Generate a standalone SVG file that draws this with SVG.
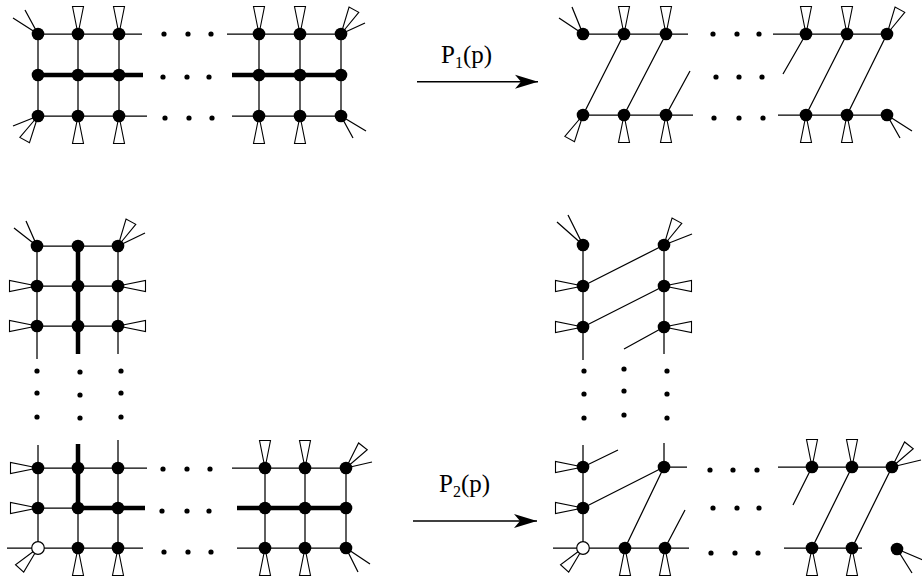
<svg xmlns="http://www.w3.org/2000/svg" xmlns:xlink="http://www.w3.org/1999/xlink" width="922" height="583" viewBox="0 0 922 583">
<style>
.e{stroke:#000;stroke-width:1.25;fill:none;stroke-linecap:butt}
.t{stroke:#000;stroke-width:4.5;fill:none}
.n{fill:#000}
.o{fill:#fff;stroke:#000;stroke-width:1.2}
.d{fill:#000}
.w{fill:#fff;stroke:#000;stroke-width:1.1;stroke-linejoin:miter}
.lbl{font-family:"Liberation Serif","Times New Roman",serif;font-size:25px;fill:#000}
.a{stroke:#000;stroke-width:1.6;fill:none}
</style>
<defs>
<polygon id="w" class="w" points="0,0 -5.5,-27.5 5.5,-27.5"/>
<marker id="ah" markerUnits="userSpaceOnUse" viewBox="-24 -8 25 16" refX="0" refY="0" markerWidth="25" markerHeight="16" orient="auto">
<path d="M0,0 L-23,-7 L-17,0 L-23,7 Z" fill="#000"/>
</marker>
</defs>

<g id="connectors">
<!-- top-left grid -->
<path class="e" d="M38,34H142M227,34H341M38,116H147M232,116H341M38,34V116M78,34V116M119,34V116M259,34V116M300,34V116M341,34V116"/>
<path class="t" d="M38,75H143M232,75H341"/>
<!-- top-right -->
<path class="e" d="M583,34H688M773,34H887M583,115H693M778,115H887M583,115L624,34M624,115L666,34M666,115L690,71M806,34L783,74M806,115L847,34M847,115L887,34"/>
<!-- bottom-left vertical part -->
<path class="e" d="M37,246H118M37,286H118M37,326H118M37,246V359M118,246V354"/>
<path class="t" d="M78,246V354"/>
<!-- bottom-right vertical part -->
<path class="e" d="M583,245V360M664,245V354M583,286L664,245M583,327L664,286M664,327L624,349"/>
<!-- bottom-left horizontal part -->
<path class="e" d="M38,445V548M78,508V548M118,440V548M38,468H147M38,508H78M7,548H143M232,468H346M237,548H346M265,468V548M305,468V548M346,468V548"/>
<path class="t" d="M78,444V508M78,508H145M237,508H346"/>
<!-- bottom-right horizontal part -->
<path class="e" d="M583,445V548M583,467L618,450M664,443V467M664,467H687M583,508L664,467M625,548L664,467M665,548L685,510M553,548H689M778,467H892M812,467L793,505M812,548L852,467M852,548L892,467M784,548H862"/>
<!-- arrows -->
<path class="a" d="M417,81.7H538" marker-end="url(#ah)"/>
<path class="a" d="M413,521H537" marker-end="url(#ah)"/>
</g>

<g id="dots">
<circle class="d" r="2.6" cx="164" cy="34"/><circle class="d" r="2.6" cx="188" cy="34"/><circle class="d" r="2.6" cx="211" cy="34"/>
<circle class="d" r="2.6" cx="163" cy="77"/><circle class="d" r="2.6" cx="187" cy="77"/><circle class="d" r="2.6" cx="209" cy="77"/>
<circle class="d" r="2.6" cx="165" cy="118"/><circle class="d" r="2.6" cx="189" cy="118"/><circle class="d" r="2.6" cx="212" cy="118"/>
<circle class="d" r="2.6" cx="713" cy="34"/><circle class="d" r="2.6" cx="737" cy="34"/><circle class="d" r="2.6" cx="759" cy="34"/>
<circle class="d" r="2.6" cx="716" cy="77"/><circle class="d" r="2.6" cx="739" cy="77"/><circle class="d" r="2.6" cx="762" cy="77"/>
<circle class="d" r="2.6" cx="714" cy="118"/><circle class="d" r="2.6" cx="739" cy="118"/><circle class="d" r="2.6" cx="763" cy="118"/>
<circle class="d" r="2.6" cx="37" cy="371"/><circle class="d" r="2.6" cx="37" cy="393"/><circle class="d" r="2.6" cx="37" cy="417"/>
<circle class="d" r="2.6" cx="80" cy="372"/><circle class="d" r="2.6" cx="80" cy="395"/><circle class="d" r="2.6" cx="80" cy="418"/>
<circle class="d" r="2.6" cx="121" cy="371"/><circle class="d" r="2.6" cx="121" cy="393"/><circle class="d" r="2.6" cx="121" cy="417"/>
<circle class="d" r="2.6" cx="584" cy="371"/><circle class="d" r="2.6" cx="584" cy="394"/><circle class="d" r="2.6" cx="584" cy="418"/>
<circle class="d" r="2.6" cx="624" cy="369"/><circle class="d" r="2.6" cx="624" cy="391"/><circle class="d" r="2.6" cx="624" cy="415"/>
<circle class="d" r="2.6" cx="667" cy="371"/><circle class="d" r="2.6" cx="667" cy="394"/><circle class="d" r="2.6" cx="667" cy="418"/>
<circle class="d" r="2.6" cx="163" cy="469"/><circle class="d" r="2.6" cx="187" cy="469"/><circle class="d" r="2.6" cx="210" cy="469"/>
<circle class="d" r="2.6" cx="162" cy="511"/><circle class="d" r="2.6" cx="187" cy="511"/><circle class="d" r="2.6" cx="209" cy="511"/>
<circle class="d" r="2.6" cx="164" cy="552"/><circle class="d" r="2.6" cx="188" cy="552"/><circle class="d" r="2.6" cx="211" cy="552"/>
<circle class="d" r="2.6" cx="710" cy="470"/><circle class="d" r="2.6" cx="733" cy="470"/><circle class="d" r="2.6" cx="757" cy="470"/>
<circle class="d" r="2.6" cx="713" cy="508"/><circle class="d" r="2.6" cx="737" cy="508"/><circle class="d" r="2.6" cx="759" cy="508"/>
<circle class="d" r="2.6" cx="711" cy="553"/><circle class="d" r="2.6" cx="735" cy="553"/><circle class="d" r="2.6" cx="758" cy="553"/>
</g>

<g id="labels">
<text class="lbl" x="441" y="63">P<tspan font-size="16" dy="5">1</tspan><tspan dy="-5">(p)</tspan></text>
<text class="lbl" x="439" y="492">P<tspan font-size="16" dy="5">2</tspan><tspan dy="-5">(p)</tspan></text>
</g>

<!-- ===== top-left grid nodes ===== -->
<g id="tl-00"><path class="e" d="M38,34L13,18M38,34L25,10"/><circle class="n" cx="38" cy="34" r="6.3"/></g>
<g id="tl-01"><use xlink:href="#w" transform="translate(78,34)"/><circle class="n" cx="78" cy="34" r="6.3"/></g>
<g id="tl-02"><use xlink:href="#w" transform="translate(119,34)"/><circle class="n" cx="119" cy="34" r="6.3"/></g>
<g id="tl-03"><use xlink:href="#w" transform="translate(259,34)"/><circle class="n" cx="259" cy="34" r="6.3"/></g>
<g id="tl-04"><use xlink:href="#w" transform="translate(300,34)"/><circle class="n" cx="300" cy="34" r="6.3"/></g>
<g id="tl-05"><use xlink:href="#w" transform="translate(341,34) rotate(28)"/><path class="e" d="M341,34L365,23"/><circle class="n" cx="341" cy="34" r="6.3"/></g>
<g id="tl-10"><circle class="n" cx="38" cy="75" r="6.3"/></g>
<g id="tl-11"><circle class="n" cx="78" cy="75" r="6.3"/></g>
<g id="tl-12"><circle class="n" cx="119" cy="75" r="6.3"/></g>
<g id="tl-13"><circle class="n" cx="259" cy="75" r="6.3"/></g>
<g id="tl-14"><circle class="n" cx="300" cy="75" r="6.3"/></g>
<g id="tl-15"><circle class="n" cx="341" cy="75" r="6.3"/></g>
<g id="tl-20"><use xlink:href="#w" transform="translate(38,116) rotate(209)"/><path class="e" d="M38,116L13,126"/><circle class="n" cx="38" cy="116" r="6.3"/></g>
<g id="tl-21"><use xlink:href="#w" transform="translate(78,116) rotate(180)"/><circle class="n" cx="78" cy="116" r="6.3"/></g>
<g id="tl-22"><use xlink:href="#w" transform="translate(119,116) rotate(180)"/><circle class="n" cx="119" cy="116" r="6.3"/></g>
<g id="tl-23"><use xlink:href="#w" transform="translate(259,116) rotate(180)"/><circle class="n" cx="259" cy="116" r="6.3"/></g>
<g id="tl-24"><use xlink:href="#w" transform="translate(300,116) rotate(180)"/><circle class="n" cx="300" cy="116" r="6.3"/></g>
<g id="tl-25"><path class="e" d="M341,116L366,131M341,116L353,138"/><circle class="n" cx="341" cy="116" r="6.3"/></g>

<!-- ===== top-right nodes ===== -->
<g id="tr-00"><path class="e" d="M583,34L559,18M583,34L572,7"/><circle class="n" cx="583" cy="34" r="6.3"/></g>
<g id="tr-01"><use xlink:href="#w" transform="translate(624,34)"/><circle class="n" cx="624" cy="34" r="6.3"/></g>
<g id="tr-02"><use xlink:href="#w" transform="translate(666,34)"/><circle class="n" cx="666" cy="34" r="6.3"/></g>
<g id="tr-03"><use xlink:href="#w" transform="translate(806,34)"/><circle class="n" cx="806" cy="34" r="6.3"/></g>
<g id="tr-04"><use xlink:href="#w" transform="translate(847,34)"/><circle class="n" cx="847" cy="34" r="6.3"/></g>
<g id="tr-05"><use xlink:href="#w" transform="translate(887,34) rotate(28)"/><circle class="n" cx="887" cy="34" r="6.3"/></g>
<g id="tr-10"><use xlink:href="#w" transform="translate(583,115) rotate(209)"/><circle class="n" cx="583" cy="115" r="6.3"/></g>
<g id="tr-11"><use xlink:href="#w" transform="translate(624,115) rotate(180)"/><circle class="n" cx="624" cy="115" r="6.3"/></g>
<g id="tr-12"><use xlink:href="#w" transform="translate(666,115) rotate(180)"/><circle class="n" cx="666" cy="115" r="6.3"/></g>
<g id="tr-13"><use xlink:href="#w" transform="translate(806,115) rotate(180)"/><circle class="n" cx="806" cy="115" r="6.3"/></g>
<g id="tr-14"><use xlink:href="#w" transform="translate(847,115) rotate(180)"/><circle class="n" cx="847" cy="115" r="6.3"/></g>
<g id="tr-15"><path class="e" d="M887,115L912,131M887,115L900,138"/><circle class="n" cx="887" cy="115" r="6.3"/></g>

<!-- ===== bottom-left vertical part nodes ===== -->
<g id="bv-00"><path class="e" d="M37,246L14,228M37,246L26,221"/><circle class="n" cx="37" cy="246" r="6.3"/></g>
<g id="bv-01"><circle class="n" cx="78" cy="246" r="6.3"/></g>
<g id="bv-02"><use xlink:href="#w" transform="translate(118,246) rotate(28)"/><path class="e" d="M118,246L145,233"/><circle class="n" cx="118" cy="246" r="6.3"/></g>
<g id="bv-10"><use xlink:href="#w" transform="translate(37,286) rotate(-90)"/><circle class="n" cx="37" cy="286" r="6.3"/></g>
<g id="bv-11"><circle class="n" cx="78" cy="286" r="6.3"/></g>
<g id="bv-12"><use xlink:href="#w" transform="translate(118,286) rotate(90)"/><circle class="n" cx="118" cy="286" r="6.3"/></g>
<g id="bv-20"><use xlink:href="#w" transform="translate(37,326) rotate(-90)"/><circle class="n" cx="37" cy="326" r="6.3"/></g>
<g id="bv-21"><circle class="n" cx="78" cy="326" r="6.3"/></g>
<g id="bv-22"><use xlink:href="#w" transform="translate(118,326) rotate(90)"/><circle class="n" cx="118" cy="326" r="6.3"/></g>

<!-- ===== bottom-right vertical part nodes ===== -->
<g id="rv-00"><path class="e" d="M583,245L557,222M583,245L568,215"/><circle class="n" cx="583" cy="245" r="6.3"/></g>
<g id="rv-01"><use xlink:href="#w" transform="translate(664,245) rotate(28)"/><path class="e" d="M664,245L692,234"/><circle class="n" cx="664" cy="245" r="6.3"/></g>
<g id="rv-10"><use xlink:href="#w" transform="translate(583,286) rotate(-90)"/><circle class="n" cx="583" cy="286" r="6.3"/></g>
<g id="rv-11"><use xlink:href="#w" transform="translate(664,286) rotate(90)"/><circle class="n" cx="664" cy="286" r="6.3"/></g>
<g id="rv-20"><use xlink:href="#w" transform="translate(583,327) rotate(-90)"/><circle class="n" cx="583" cy="327" r="6.3"/></g>
<g id="rv-21"><use xlink:href="#w" transform="translate(664,327) rotate(90)"/><circle class="n" cx="664" cy="327" r="6.3"/></g>

<!-- ===== bottom-left horizontal part nodes ===== -->
<g id="bh-00"><use xlink:href="#w" transform="translate(38,468) rotate(-90)"/><circle class="n" cx="38" cy="468" r="6.3"/></g>
<g id="bh-01"><circle class="n" cx="78" cy="468" r="6.3"/></g>
<g id="bh-02"><circle class="n" cx="118" cy="468" r="6.3"/></g>
<g id="bh-03"><use xlink:href="#w" transform="translate(265,468)"/><circle class="n" cx="265" cy="468" r="6.3"/></g>
<g id="bh-04"><use xlink:href="#w" transform="translate(305,468)"/><circle class="n" cx="305" cy="468" r="6.3"/></g>
<g id="bh-05"><use xlink:href="#w" transform="translate(346,468) rotate(38)"/><path class="e" d="M346,468L372,462"/><circle class="n" cx="346" cy="468" r="6.3"/></g>
<g id="bh-10"><use xlink:href="#w" transform="translate(38,508) rotate(-90)"/><circle class="n" cx="38" cy="508" r="6.3"/></g>
<g id="bh-11"><circle class="n" cx="78" cy="508" r="6.3"/></g>
<g id="bh-12"><circle class="n" cx="118" cy="508" r="6.3"/></g>
<g id="bh-13"><circle class="n" cx="265" cy="508" r="6.3"/></g>
<g id="bh-14"><circle class="n" cx="305" cy="508" r="6.3"/></g>
<g id="bh-15"><circle class="n" cx="346" cy="508" r="6.3"/></g>
<g id="bh-20"><use xlink:href="#w" transform="translate(38,548) rotate(222)"/><circle class="o" cx="38" cy="548" r="6.3"/></g>
<g id="bh-21"><use xlink:href="#w" transform="translate(78,548) rotate(180)"/><circle class="n" cx="78" cy="548" r="6.3"/></g>
<g id="bh-22"><use xlink:href="#w" transform="translate(118,548) rotate(180)"/><circle class="n" cx="118" cy="548" r="6.3"/></g>
<g id="bh-23"><use xlink:href="#w" transform="translate(265,548) rotate(180)"/><circle class="n" cx="265" cy="548" r="6.3"/></g>
<g id="bh-24"><use xlink:href="#w" transform="translate(305,548) rotate(180)"/><circle class="n" cx="305" cy="548" r="6.3"/></g>
<g id="bh-25"><path class="e" d="M346,548L370,564M346,548L358,572"/><circle class="n" cx="346" cy="548" r="6.3"/></g>

<!-- ===== bottom-right horizontal part nodes ===== -->
<g id="rh-00"><use xlink:href="#w" transform="translate(583,467) rotate(-90)"/><circle class="n" cx="583" cy="467" r="6.3"/></g>
<g id="rh-01"><circle class="n" cx="664" cy="467" r="6.3"/></g>
<g id="rh-03"><use xlink:href="#w" transform="translate(812,467)"/><circle class="n" cx="812" cy="467" r="6.3"/></g>
<g id="rh-04"><use xlink:href="#w" transform="translate(852,467)"/><circle class="n" cx="852" cy="467" r="6.3"/></g>
<g id="rh-05"><use xlink:href="#w" transform="translate(892,467) rotate(38)"/><path class="e" d="M892,467L921,460"/><circle class="n" cx="892" cy="467" r="6.3"/></g>
<g id="rh-10"><use xlink:href="#w" transform="translate(583,508) rotate(-90)"/><circle class="n" cx="583" cy="508" r="6.3"/></g>
<g id="rh-20"><use xlink:href="#w" transform="translate(583,548) rotate(222)"/><circle class="o" cx="583" cy="548" r="6.3"/></g>
<g id="rh-21"><use xlink:href="#w" transform="translate(625,548) rotate(180)"/><circle class="n" cx="625" cy="548" r="6.3"/></g>
<g id="rh-22"><use xlink:href="#w" transform="translate(665,548) rotate(180)"/><circle class="n" cx="665" cy="548" r="6.3"/></g>
<g id="rh-23"><use xlink:href="#w" transform="translate(812,548) rotate(180)"/><circle class="n" cx="812" cy="548" r="6.3"/></g>
<g id="rh-24"><use xlink:href="#w" transform="translate(852,548) rotate(180)"/><circle class="n" cx="852" cy="548" r="6.3"/></g>
<g id="rh-25"><path class="e" d="M897,549L923,560M897,549L912,573"/><circle class="n" cx="897" cy="549" r="6.3"/></g>
</svg>
